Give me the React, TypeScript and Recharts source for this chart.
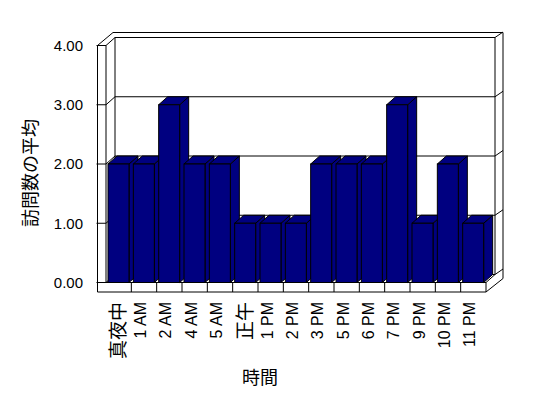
import { Bar, BarChart, CartesianGrid, XAxis, YAxis } from "recharts"

const hours = ["真夜中", "1 AM", "2 AM", "4 AM", "5 AM", "正午", "1 PM", "2 PM", "3 PM", "5 PM", "6 PM", "7 PM", "9 PM", "10 PM", "11 PM"]
const avgVisits = [2, 2, 3, 2, 2, 1, 1, 1, 2, 2, 2, 3, 1, 2, 1]
const yTicks = [0, 1, 2, 3, 4]

const data = hours.map((hour, i) => ({ hour, avg: avgVisits[i] }))

// layout of the fake 3d box (front plane of the plot + depth offsets)
const W = 548
const H = 398
const PL = 106
const PR = 486
const PT = 45.5
const PB = 282.5
const DX = 9
const DY = -8
const WALL = 97.5
const FLOOR = 292
const OUT_R = 503
const OUT_T = 32.5

const NAVY = "#000080"
const CJK = /[\u3000-\u9fff]/

function Bar3D(props: any) {
  const { x, y, width, height } = props
  if (!height) return null
  const r = x + width
  const b = y + height
  return (
    <g stroke="#000" strokeWidth={1} fill={NAVY}>
      <polygon points={`${r},${y} ${r + DX},${y + DY} ${r + DX},${b + DY} ${r},${b}`} />
      <polygon points={`${x},${y} ${x + DX},${y + DY} ${r + DX},${y + DY} ${r},${y}`} />
      <rect x={x} y={y} width={width} height={height} />
    </g>
  )
}

function gridLine(props: any) {
  const y = props.y1
  return (
    <path
      key={props.key ?? `g${y}`}
      d={`M${WALL - 1},${y} H${PL} L${PL + DX},${y + DY} H${PR + DX} L${OUT_R},${y + DY - 5.5}`}
      stroke="#000"
      fill="none"
    />
  )
}

function HourTick(props: any) {
  const { x, y, payload } = props
  const label = String(payload.value)
  const big = CJK.test(label)
  return (
    <text
      transform={`translate(${x + (big ? 6.5 : 2)},${y + 19.5}) rotate(-90)`}
      textAnchor="end"
      fontSize={big ? 19 : 16}
      fontFamily={big ? "Noto Sans CJK JP" : "Liberation Sans, Arial"}
      fill="#000"
    >
      {label}
    </text>
  )
}

function ValueTick(props: any) {
  const { x, y, payload } = props
  return (
    <text x={x} y={y} dy="0.36em" textAnchor="end" fontSize={15} fontFamily="Liberation Sans, Arial" fill="#000">
      {Number(payload.value).toFixed(2)}
    </text>
  )
}

function Frame() {
  const band = (PR - PL) / hours.length
  const dividers = hours.slice(1).map((_, i) => PL + band * (i + 1))
  return (
    <svg width={W} height={H} style={{ position: "absolute", left: 0, top: 0 }}>
      <rect width={W} height={H} fill="#fff" />
      <g stroke="#000" fill="none" strokeWidth={1}>
        <polygon
          points={`${WALL},${FLOOR} ${WALL},${PT} ${WALL + 15.5},${OUT_T} ${OUT_R},${OUT_T} ${OUT_R},${FLOOR - 13.5} ${PR},${FLOOR}`}
          fill="#fff"
        />
        <line x1={PL} y1={PT} x2={PL} y2={PB} />
        <line x1={PL + DX} y1={PT + DY} x2={PL + DX} y2={PB + DY} />
        <line x1={PR + DX} y1={PT + DY} x2={PR + DX} y2={PB + DY} />
        <line x1={WALL} y1={PB} x2={PR} y2={PB} />
        <line x1={PR} y1={PB} x2={PR} y2={FLOOR} />
        <line x1={PR} y1={PB} x2={PR + DX} y2={PB + DY} />
        {dividers.map((d) => (
          <line key={d} x1={d} y1={PB} x2={d} y2={FLOOR} />
        ))}
      </g>
      <text
        transform="translate(29,173) rotate(-90)"
        textAnchor="middle"
        dominantBaseline="central"
        fontSize={18}
        fontFamily="Noto Sans CJK JP"
      >
        訪問数の平均
      </text>
      <text x={260} y={376} textAnchor="middle" dominantBaseline="central" fontSize={18} fontFamily="Noto Sans CJK JP">
        時間
      </text>
    </svg>
  )
}

export default function App() {
  return (
    <div style={{ position: "absolute", left: 0, top: 0, width: W, height: H }}>
      <Frame />
      <div style={{ position: "absolute", left: 0, top: 0 }}>
        <BarChart width={W} height={H} data={data} margin={{ top: PT, right: W - PR, bottom: 0, left: 0 }}>
          <CartesianGrid vertical={false} horizontal={gridLine} />
          <XAxis
            dataKey="hour"
            height={H - PB}
            interval={0}
            axisLine={false}
            tickLine={false}
            tickSize={0}
            tickMargin={0}
            tick={<HourTick />}
          />
          <YAxis
            width={PL}
            domain={[0, 4]}
            ticks={yTicks}
            axisLine={false}
            tickLine={false}
            tickSize={0}
            tickMargin={23}
            tick={<ValueTick />}
          />
          <Bar dataKey="avg" barSize={21} shape={<Bar3D />} isAnimationActive={false} />
        </BarChart>
      </div>
    </div>
  )
}
